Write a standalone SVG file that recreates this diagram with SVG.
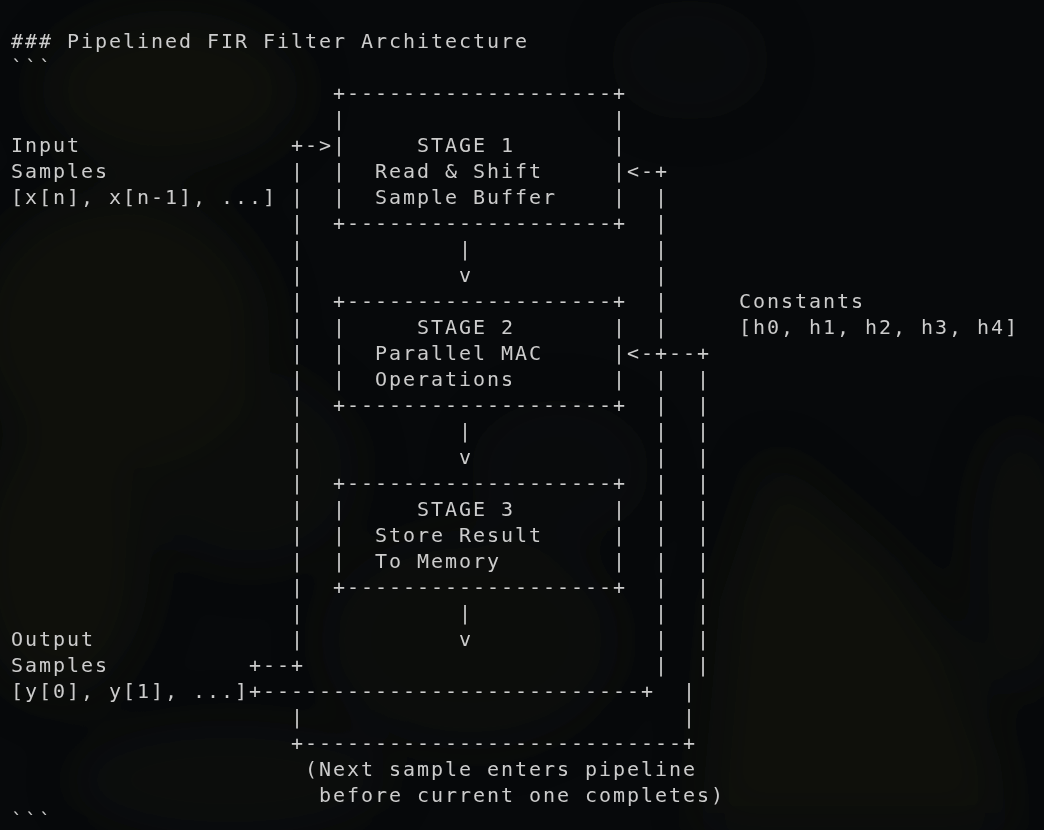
<svg xmlns="http://www.w3.org/2000/svg" width="1044" height="830" viewBox="0 0 1044 830">
  <style>
    text { font-family: "DejaVu Sans Mono", "Liberation Mono", monospace; font-size: 20px; letter-spacing: 1.96px; fill: #cccccc; white-space: pre; }
  </style>
  <defs>
    <filter id="blur" x="-30%" y="-30%" width="160%" height="160%">
      <feGaussianBlur stdDeviation="26"/>
    </filter>
  </defs>

  <g id="background">
    <rect x="0" y="0" width="1044" height="830" fill="#07090b"/>
    <g filter="url(#blur)" fill="#1c1c0d" opacity="0.4">
      <ellipse cx="170" cy="90" rx="130" ry="80"/>
      <ellipse cx="120" cy="330" rx="150" ry="140"/>
      <ellipse cx="60" cy="560" rx="90" ry="140"/>
      <ellipse cx="250" cy="470" rx="110" ry="100" opacity="0.6"/>
      <ellipse cx="470" cy="640" rx="150" ry="110" opacity="0.7"/>
      <ellipse cx="230" cy="780" rx="160" ry="60" opacity="0.6"/>
      <polygon points="770,450 830,500 900,560 960,650 1000,760 1010,830 700,830 720,600"/>
      <ellipse cx="1020" cy="560" rx="50" ry="140" opacity="0.7"/>
      <ellipse cx="690" cy="60" rx="80" ry="60" opacity="0.5"/>
      <ellipse cx="560" cy="470" rx="90" ry="70" opacity="0.5"/>
    </g>
  </g>

  <g id="title">
    <text x="11" y="48">### Pipelined FIR Filter Architecture</text>
    <text x="11" y="74">```</text>
    <text x="11" y="827">```</text>
  </g>

  <g id="input-samples">
    <text x="11" y="152">Input</text>
    <text x="11" y="178">Samples</text>
    <text x="11" y="204">[x[n], x[n-1], ...]</text>
  </g>

  <g id="stage1">
    <text x="333" y="100">+-------------------+</text>
    <text x="333" y="126">|                   |</text>
    <text x="333" y="152">|     STAGE 1       |</text>
    <text x="333" y="178">|  Read &amp; Shift     |</text>
    <text x="333" y="204">|  Sample Buffer    |</text>
    <text x="333" y="230">+-------------------+</text>
  </g>

  <g id="stage2">
    <text x="333" y="308">+-------------------+</text>
    <text x="333" y="334">|     STAGE 2       |</text>
    <text x="333" y="360">|  Parallel MAC     |</text>
    <text x="333" y="386">|  Operations       |</text>
    <text x="333" y="412">+-------------------+</text>
  </g>

  <g id="stage3">
    <text x="333" y="490">+-------------------+</text>
    <text x="333" y="516">|     STAGE 3       |</text>
    <text x="333" y="542">|  Store Result     |</text>
    <text x="333" y="568">|  To Memory        |</text>
    <text x="333" y="594">+-------------------+</text>
  </g>

  <g id="constants">
    <text x="739" y="308">Constants</text>
    <text x="739" y="334">[h0, h1, h2, h3, h4]</text>
  </g>

  <g id="output-samples">
    <text x="11" y="646">Output</text>
    <text x="11" y="672">Samples</text>
    <text x="11" y="698">[y[0], y[1], ...]</text>
  </g>

  <g id="note">
    <text x="305" y="776">(Next sample enters pipeline</text>
    <text x="319" y="802">before current one completes)</text>
  </g>

  <g id="connectors">
    <!-- input feed / left rail -->
    <text x="291" y="152">+-&gt;</text>
    <text><tspan x="291" y="178">|</tspan><tspan x="291" y="204">|</tspan><tspan x="291" y="230">|</tspan><tspan x="291" y="256">|</tspan><tspan x="291" y="282">|</tspan><tspan x="291" y="308">|</tspan><tspan x="291" y="334">|</tspan><tspan x="291" y="360">|</tspan><tspan x="291" y="386">|</tspan><tspan x="291" y="412">|</tspan><tspan x="291" y="438">|</tspan><tspan x="291" y="464">|</tspan><tspan x="291" y="490">|</tspan><tspan x="291" y="516">|</tspan><tspan x="291" y="542">|</tspan><tspan x="291" y="568">|</tspan><tspan x="291" y="594">|</tspan><tspan x="291" y="620">|</tspan><tspan x="291" y="646">|</tspan></text>
    <text x="249" y="672">+--+</text>
    <!-- output line -->
    <text x="249" y="698">+---------------------------+</text>
    <text x="291" y="724">|</text>
    <text x="291" y="750">+---------------------------+</text>
    <!-- stage to stage arrows -->
    <text><tspan x="459" y="256">|</tspan><tspan x="459" y="282">v</tspan><tspan x="459" y="438">|</tspan><tspan x="459" y="464">v</tspan><tspan x="459" y="620">|</tspan><tspan x="459" y="646">v</tspan></text>
    <!-- feedback to stage 1 -->
    <text x="627" y="178">&lt;-+</text>
    <text><tspan x="655" y="204">|</tspan><tspan x="655" y="230">|</tspan><tspan x="655" y="256">|</tspan><tspan x="655" y="282">|</tspan><tspan x="655" y="308">|</tspan><tspan x="655" y="334">|</tspan><tspan x="655" y="386">|</tspan><tspan x="655" y="412">|</tspan><tspan x="655" y="438">|</tspan><tspan x="655" y="464">|</tspan><tspan x="655" y="490">|</tspan><tspan x="655" y="516">|</tspan><tspan x="655" y="542">|</tspan><tspan x="655" y="568">|</tspan><tspan x="655" y="594">|</tspan><tspan x="655" y="620">|</tspan><tspan x="655" y="646">|</tspan><tspan x="655" y="672">|</tspan></text>
    <!-- constants feed to stage 2 -->
    <text x="627" y="360">&lt;-+--+</text>
    <text><tspan x="697" y="386">|</tspan><tspan x="697" y="412">|</tspan><tspan x="697" y="438">|</tspan><tspan x="697" y="464">|</tspan><tspan x="697" y="490">|</tspan><tspan x="697" y="516">|</tspan><tspan x="697" y="542">|</tspan><tspan x="697" y="568">|</tspan><tspan x="697" y="594">|</tspan><tspan x="697" y="620">|</tspan><tspan x="697" y="646">|</tspan><tspan x="697" y="672">|</tspan></text>
    <text><tspan x="683" y="698">|</tspan><tspan x="683" y="724">|</tspan></text>
  </g>
</svg>
